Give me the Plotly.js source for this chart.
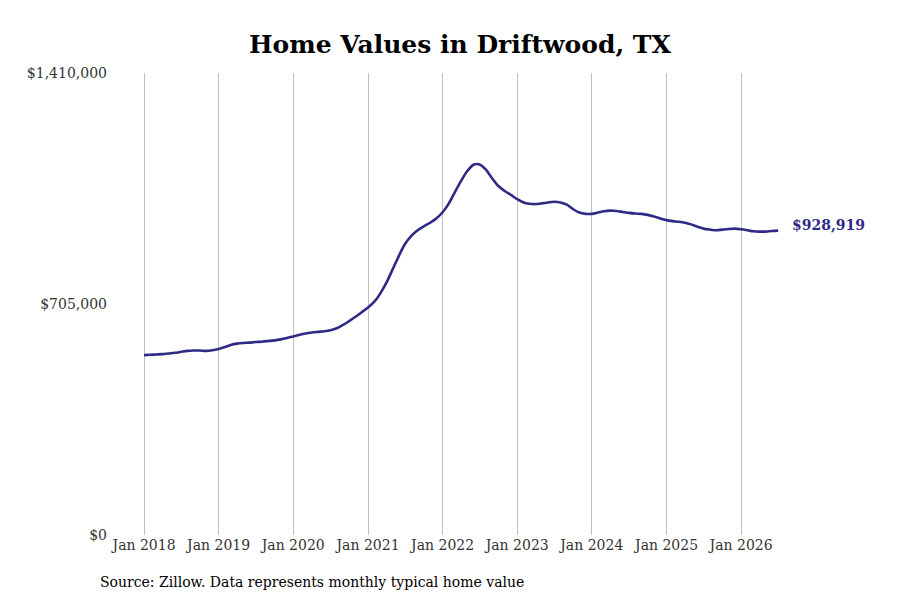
<!DOCTYPE html>
<html><head><meta charset="utf-8">
<script src="https://cdn.plot.ly/plotly-3.0.1.min.js"></script>
<style>html,body{margin:0;padding:0;background:#fff}#chart{width:900px;height:600px}</style>
</head><body><div id="chart"></div>
<script>
const startYear = 2018;
const values = [
549000,550000,551000,552000,554000,556000,559000,562000,563000,563000,562000,564000,
568000,574000,580000,584000,586000,587000,589000,590000,592000,594000,597000,601000,
606000,611000,615000,618000,620000,622000,625000,631000,641000,653000,666000,680000,
694000,712000,736000,770000,810000,852000,888000,913000,930000,942000,953000,966000,
985000,1012000,1045000,1080000,1110000,1130000,1131000,1115000,1088000,1065000,1050000,1038000,
1025000,1015000,1011000,1010000,1012000,1015000,1017000,1015000,1008000,995000,984000,980000,
980000,984000,988000,990000,989000,986000,983000,981000,980000,977000,972000,966000,
961000,958000,956000,953000,948000,941000,935000,932000,930000,932000,934000,935000,
933000,930000,927000,926000,926000,928000,928919
];
const dates = values.map((v,i)=>{
  const y = startYear + Math.floor(i/12), m = (i%12)+1;
  return y + '-' + String(m).padStart(2,'0') + '-01';
});
const yTickVals = [0, 705000, 1410000];
const yTickText = ['$0', '$705,000', '$1,410,000'];
const xTickVals = ['2018-01-01','2019-01-01','2020-01-01','2021-01-01','2022-01-01','2023-01-01','2024-01-01','2025-01-01','2026-01-01'];
const xTickText = ['Jan 2018','Jan 2019','Jan 2020','Jan 2021','Jan 2022','Jan 2023','Jan 2024','Jan 2025','Jan 2026'];
const lastLabel = '$928,919';
const titleText = 'Home Values in Driftwood, TX';
const sourceText = 'Source: Zillow. Data represents monthly typical home value';
const lineColor = '#2e2a85';

const font = 'DejaVu Serif, serif';
const L = 113, R = 90, T = 73, B = 65;
const sx = (98 - L) / (900 - L - R);
const sy = (600 - B - 582) / (600 - T - B);
Plotly.newPlot('chart', [{
  x: dates, y: values, type: 'scatter', mode: 'lines',
  line: {color: lineColor, width: 2.6, shape: 'spline', smoothing: 0.8},
  hoverinfo: 'skip'
}], {
  width: 900, height: 600,
  paper_bgcolor: '#fff', plot_bgcolor: '#fff',
  margin: {l: L, r: R, t: T, b: B},
  showlegend: false,
  title: {text: '<b>' + titleText + '</b>', x: 0.511, xanchor: 'center', y: 0.926, yanchor: 'middle',
    font: {family: font, size: 25, color: '#000'}},
  xaxis: {
    type: 'date', range: ['2017-08-02','2026-12-04'],
    tickvals: xTickVals, ticktext: xTickText,
    showgrid: true, gridcolor: '#c0c0c0', gridwidth: 1,
    zeroline: false, showline: false, ticks: '',
    tickfont: {family: font, size: 14, color: '#333'}
  },
  yaxis: {
    range: [0, 1410000], tickvals: yTickVals, ticktext: yTickText,
    showgrid: false, zeroline: false, showline: false, ticks: '',
    tickfont: {family: font, size: 14, color: '#333'}, ticklabelstandoff: 5
  },
  annotations: [
    {x: dates[dates.length-1], y: values[values.length-1], xref: 'x', yref: 'y',
     text: '<b>' + lastLabel + '</b>', showarrow: false, xanchor: 'left', xshift: 12, yshift: 6,
     font: {family: font, size: 14, color: lineColor}},
    {x: sx, y: sy, xref: 'paper', yref: 'paper', text: sourceText, showarrow: false,
     xanchor: 'left', yanchor: 'middle',
     font: {family: font, size: 14, color: '#000'}}
  ]
}, {staticPlot: true, displayModeBar: false});
</script></body></html>
